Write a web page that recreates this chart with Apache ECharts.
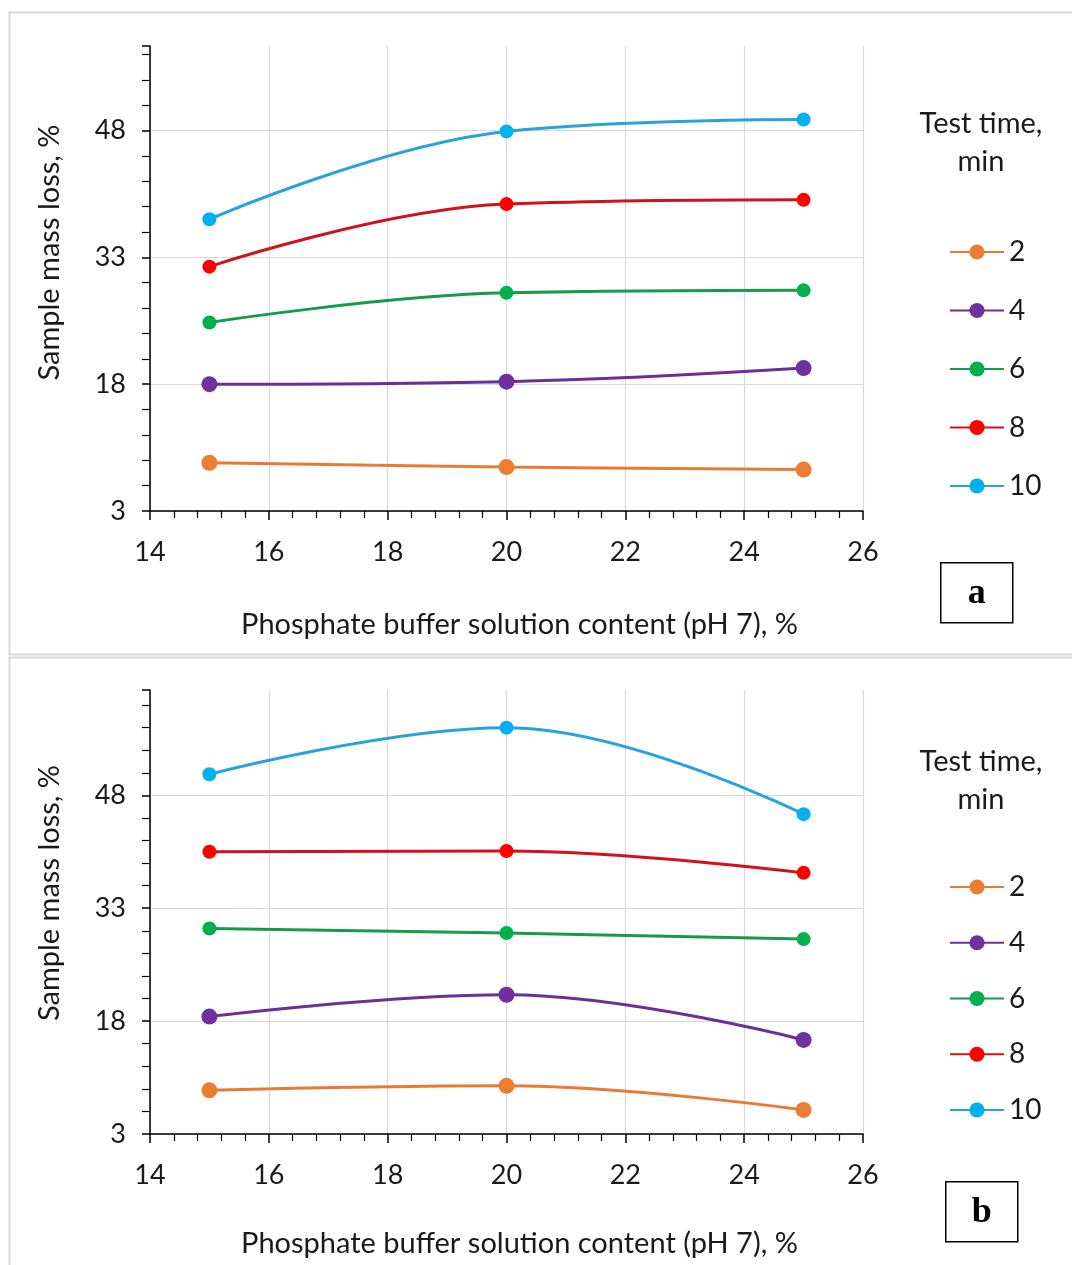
<!DOCTYPE html>
<html>
<head>
<meta charset="utf-8">
<script src="https://cdn.jsdelivr.net/npm/echarts@6/dist/echarts.min.js"></script>
<style>
  html, body { margin: 0; padding: 0; background: #fff; }
  #chart { width: 1072px; height: 1265px; }
</style>
</head>
<body>
<div id="chart"></div>
<script>
// phosphate buffer content, %
const xValues = [15, 20, 25];
const timeNames = ['2', '4', '6', '8', '10'];

// panel a, mass loss %
const lossA2 = [8.7, 8.2, 7.9];
const lossA4 = [18.0, 18.3, 19.9];
const lossA6 = [25.3, 28.8, 29.1];
const lossA8 = [31.9, 39.3, 39.8];
const lossA10 = [37.5, 47.9, 49.3];

// panel b, mass loss %
const lossB2 = [8.8, 9.4, 6.2];
const lossB4 = [18.6, 21.5, 15.5];
const lossB6 = [30.3, 29.7, 28.9];
const lossB8 = [40.5, 40.6, 37.7];
const lossB10 = [50.8, 57.0, 45.5];

const markerColors = ['#ED7D31', '#7030A0', '#00B050', '#FF0000', '#00B0F0'];
const lineColors = ['#E97A35', '#6A2F98', '#179A4C', '#D0121A', '#2BA3DA'];
const markerSizes = [16, 16, 14, 14, 14];

const font = 'Lato';
const textColor = '#1a1a1a';

function pairs(vals) {
  return vals.map((v, i) => [xValues[i], v]);
}

function makeSeries(sets, idx) {
  return sets.map((vals, k) => ({
    name: timeNames[k],
    type: 'line',
    xAxisIndex: idx,
    yAxisIndex: idx,
    smooth: 0.4,
    symbol: 'circle',
    symbolSize: markerSizes[k],
    data: pairs(vals),
    lineStyle: { color: lineColors[k], width: 3 },
    itemStyle: { color: markerColors[k] },
    z: 3 + k
  }));
}

function xAxis(idx, gap) {
  return {
    type: 'value',
    gridIndex: idx,
    min: 14,
    max: 26,
    interval: 2,
    name: 'Phosphate buffer solution content (pH 7), %',
    nameLocation: 'middle',
    nameGap: gap,
    nameTextStyle: { fontFamily: font, fontSize: 29, color: textColor, padding: [0, 0, 0, 26] },
    axisLine: { lineStyle: { color: '#000', width: 1.5 } },
    axisTick: { length: 9, lineStyle: { color: '#000', width: 1.5 } },
    minorTick: { show: true, splitNumber: 5, length: 7, lineStyle: { color: '#000', width: 1.2 } },
    axisLabel: { fontFamily: font, fontSize: 27, color: textColor, margin: 28 },
    splitLine: { show: true, lineStyle: { color: '#d9d9d9', width: 1.2 } }
  };
}

function yAxis(idx, max, pad) {
  return {
    type: 'value',
    gridIndex: idx,
    min: 3,
    max: max,
    interval: 15,
    name: 'Sample mass loss, %',
    nameLocation: 'middle',
    nameGap: 86,
    nameTextStyle: { fontFamily: font, fontSize: 29, color: textColor, padding: [0, 0, 0, pad] },
    axisLine: { lineStyle: { color: '#000', width: 1.5 } },
    axisTick: { length: 8, lineStyle: { color: '#000', width: 1.5 } },
    minorTick: { show: true, splitNumber: 5, length: 8, lineStyle: { color: '#000', width: 1.2 } },
    axisLabel: { fontFamily: font, fontSize: 27, color: textColor, margin: 24, showMaxLabel: false },
    splitLine: {
      show: true,
      lineStyle: { color: ['#d9d9d9', '#d9d9d9', '#d9d9d9', '#d9d9d9', 'rgba(0,0,0,0)'], width: 1.2 }
    }
  };
}

function legend(top, gap) {
  return {
    orient: 'vertical',
    left: 944,
    top: top,
    itemWidth: 54,
    itemHeight: 19,
    itemGap: gap,
    itemTextGap: 4,
    data: timeNames,
    textStyle: { fontFamily: font, fontSize: 28, color: textColor, lineHeight: 26 }
  };
}

function legendTitle(top) {
  return {
    text: 'Test time,\nmin',
    left: 976,
    top: top,
    textAlign: 'center',
    textStyle: { fontFamily: font, fontSize: 29, fontWeight: 'normal', color: textColor, lineHeight: 38 }
  };
}

function letterBox(x, y, letter) {
  return {
    type: 'group',
    left: x,
    top: y,
    children: [
      { type: 'rect', shape: { x: 0, y: 0, width: 72, height: 60 }, style: { fill: '#fff', stroke: '#000', lineWidth: 1.5 } },
      { type: 'text', x: 36, y: 31, style: { text: letter, fontFamily: 'Liberation Serif', fontWeight: 'bold', fontSize: 36, fill: '#000', align: 'center', verticalAlign: 'middle' } }
    ]
  };
}

const chart = echarts.init(document.getElementById('chart'), null, { renderer: 'canvas' });

chart.setOption({
  backgroundColor: '#fff',
  animation: false,
  title: [legendTitle(100), legendTitle(738)],
  legend: [legend(233, 30.5), legend(868, 27.75)],
  grid: [
    { left: 150, right: 209, top: 46, height: 465 },
    { left: 150, right: 209, top: 690, height: 444 }
  ],
  xAxis: [xAxis(0, 99), xAxis(1, 95)],
  yAxis: [yAxis(0, 58, 52), yAxis(1, 62, 38)],
  series: [
    ...makeSeries([lossA2, lossA4, lossA6, lossA8, lossA10], 0),
    ...makeSeries([lossB2, lossB4, lossB6, lossB8, lossB10], 1)
  ],
  graphic: [
    { type: 'rect', silent: true, shape: { x: 9.5, y: 12.5, width: 1070, height: 642 }, style: { fill: 'none', stroke: '#d9d9d9', lineWidth: 2 } },
    { type: 'rect', silent: true, shape: { x: 9.5, y: 657.5, width: 1070, height: 620 }, style: { fill: 'none', stroke: '#d9d9d9', lineWidth: 2 } },
    letterBox(940, 562, 'a'),
    letterBox(945, 1181, 'b')
  ]
});
</script>
</body>
</html>
